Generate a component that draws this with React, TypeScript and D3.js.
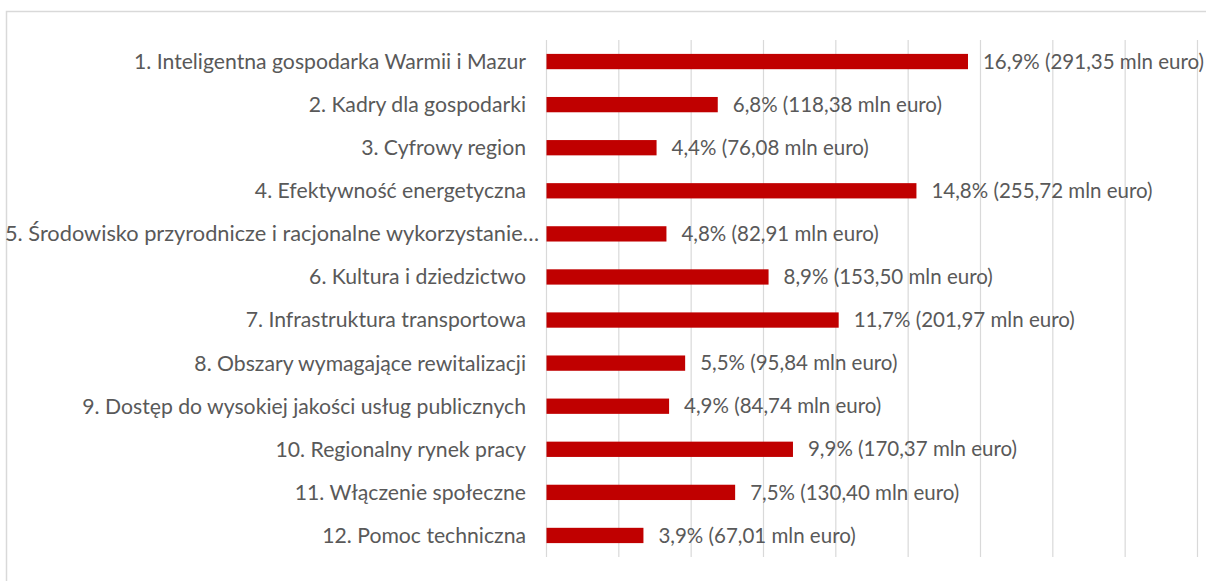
import React from "react";
import * as d3 from "d3";

const categories = [
  "1. Inteligentna gospodarka Warmii i Mazur",
  "2. Kadry dla gospodarki",
  "3. Cyfrowy region",
  "4. Efektywność energetyczna",
  "5. Środowisko przyrodnicze i racjonalne wykorzystanie…",
  "6. Kultura i dziedzictwo",
  "7. Infrastruktura transportowa",
  "8. Obszary wymagające rewitalizacji",
  "9. Dostęp do wysokiej jakości usług publicznych",
  "10. Regionalny rynek pracy",
  "11. Włączenie społeczne",
  "12. Pomoc techniczna",
];
const valuesMln = [291.35, 118.38, 76.08, 255.72, 82.91, 153.5, 201.97, 95.84, 84.74, 170.37, 130.4, 67.01];
const percents = ["16,9%", "6,8%", "4,4%", "14,8%", "4,8%", "8,9%", "11,7%", "5,5%", "4,9%", "9,9%", "7,5%", "3,9%"];
const mlnLabels = ["291,35", "118,38", "76,08", "255,72", "82,91", "153,50", "201,97", "95,84", "84,74", "170,37", "130,40", "67,01"];
const xTicks = [0, 50, 100, 150, 200, 250, 300, 350, 400, 450];

const W = 1206;
const H = 581;
const left = 546.5;
const right = 1197.5;
const top = 40;
const bottom = 557;
const FONT = "Lato, 'Open Sans', sans-serif";
const TEXT = "#595959";
const FS_CAT = 21.2;
const FS_VAL = 20.5;

export default function App() {
  const x = d3.scaleLinear().domain([0, 450]).range([left, right]);
  const y = d3
    .scaleBand<number>()
    .domain(d3.range(categories.length))
    .range([top, bottom])
    .paddingInner(0.645)
    .paddingOuter(0.3225);
  const band = (bottom - top) / categories.length;
  return (
    <svg width={W} height={H} style={{ position: "absolute", left: 0, top: 0, background: "#fff" }}>
      <rect x={6.5} y={11.5} width={1220} height={600} fill="#fff" stroke="#d9d9d9" strokeWidth={1.5} />
      {xTicks.map((t) => (
        <line key={t} x1={x(t)} x2={x(t)} y1={top} y2={bottom} stroke="#d9d9d9" strokeWidth={1.2} />
      ))}
      {categories.map((c, i) => {
        const cy = top + band * (i + 0.5);
        const bh = y.bandwidth();
        const trunc = i === 4;
        return (
          <g key={c}>
            <text
              x={trunc ? 539 : 526}
              y={cy}
              dy="0.35em"
              textAnchor="end"
              fontFamily={FONT}
              fontSize={FS_CAT}
              fill={TEXT}
              textLength={trunc ? 534 : undefined}
              lengthAdjust="spacingAndGlyphs"
            >
              {c}
            </text>
            <rect x={x(0)} y={cy - bh / 2} width={x(valuesMln[i]) - x(0)} height={bh} fill="#c00000" />
            <text x={x(valuesMln[i]) + 15} y={cy} dy="0.35em" fontFamily={FONT} fontSize={FS_VAL} fill={TEXT}>
              {`${percents[i]} (${mlnLabels[i]} mln euro)`}
            </text>
          </g>
        );
      })}
    </svg>
  );
}
